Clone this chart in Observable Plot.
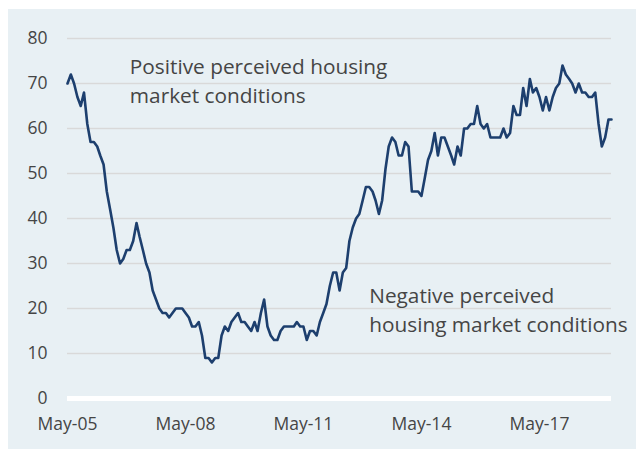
<!DOCTYPE html>
<html>
<head>
<meta charset="utf-8">
<script src="https://cdn.jsdelivr.net/npm/d3@7"></script>
<script src="https://cdn.jsdelivr.net/npm/@observablehq/plot@0.6"></script>
<style>
  html, body { margin: 0; padding: 0; background: #ffffff; }
  #wrap { position: relative; width: 636px; height: 449px; background: #ffffff; overflow: hidden; }
  #panel { position: absolute; left: 8px; top: 9px; width: 628px; height: 440px; background: #e8f0f4; }
  #chart { position: absolute; left: 0; top: 0; }
</style>
</head>
<body>
<div id="wrap"><div id="panel"></div><div id="chart"></div></div>
<script>
// Monthly index, starting May 2005
const startMonth = "2005-05";
const values = [
  70,72,70,67,65,68,61,57,57,56,54,52,46,42,38,33,30,31,33,33,
  35,39,36,33,30,28,24,22,20,19,19,18,19,20,20,20,19,18,16,16,
  17,14,9,9,8,9,9,14,16,15,17,18,19,17,17,16,15,17,15,19,
  22,16,14,13,13,15,16,16,16,16,17,16,16,13,15,15,14,17,19,21,
  25,28,28,24,28,29,35,38,40,41,44,47,47,46,44,41,44,51,56,58,
  57,54,54,57,56,46,46,46,45,49,53,55,59,54,58,58,56,54,52,56,
  54,60,60,61,61,65,61,60,61,58,58,58,58,60,58,59,65,63,63,69,
  65,71,68,69,67,64,67,64,67,69,70,74,72,71,70,68,70,68,68,67,
  67,68,61,56,58,62,62
];
const yTicks = [0,10,20,30,40,50,60,70,80];
const xTickDates = ["2005-05","2008-05","2011-05","2014-05","2017-05"];
const xTickLabels = ["May-05","May-08","May-11","May-14","May-17"];
const annotations = [
  {date: "2006-12", value: 70.9, text: "Positive perceived housing\nmarket conditions"},
  {date: "2013-01", value: 20.1, text: "Negative perceived\nhousing market conditions"}
];

const parse = d3.utcParse("%Y-%m");
const t0 = parse(startMonth);
const data = values.map((v, i) => ({date: d3.utcMonth.offset(t0, i), value: v}));
const xTicks = xTickDates.map(parse);
const labelOf = new Map(xTicks.map((d, i) => [+d, xTickLabels[i]]));
const ann = annotations.map(a => ({...a, date: parse(a.date)}));

const font = "'Open Sans', Lato, 'Liberation Sans', sans-serif";

const chart = Plot.plot({
  width: 636,
  height: 449,
  marginLeft: 67,
  marginRight: 25,
  marginTop: 38,
  marginBottom: 51,
  style: {background: "transparent", fontFamily: font, color: "#454545", overflow: "visible"},
  x: {type: "utc", domain: [data[0].date, data[data.length - 1].date]},
  y: {domain: [0, 80]},
  marks: [
    Plot.ruleY(yTicks.filter(d => d > 0), {stroke: "#d9d9d9", strokeWidth: 1.5}),
    Plot.ruleY([0], {stroke: "#ffffff", strokeWidth: 5}),
    Plot.axisY(yTicks, {tickSize: 0, tickPadding: 20, fontSize: 17.5, fill: "#454545", label: null}),
    Plot.axisX(xTicks, {tickSize: 0, tickPadding: 19, fontSize: 17.5, fill: "#454545", label: null,
      tickFormat: d => labelOf.get(+d)}),
    Plot.line(data, {x: "date", y: "value", stroke: "#1d3f6e", strokeWidth: 2.6, curve: "linear"}),
    Plot.text(ann, {x: "date", y: "value", text: "text", textAnchor: "start", fontSize: 20.8,
      lineHeight: 1.4, fill: "#454545"})
  ]
});
document.getElementById("chart").appendChild(chart);
</script>
</body>
</html>
